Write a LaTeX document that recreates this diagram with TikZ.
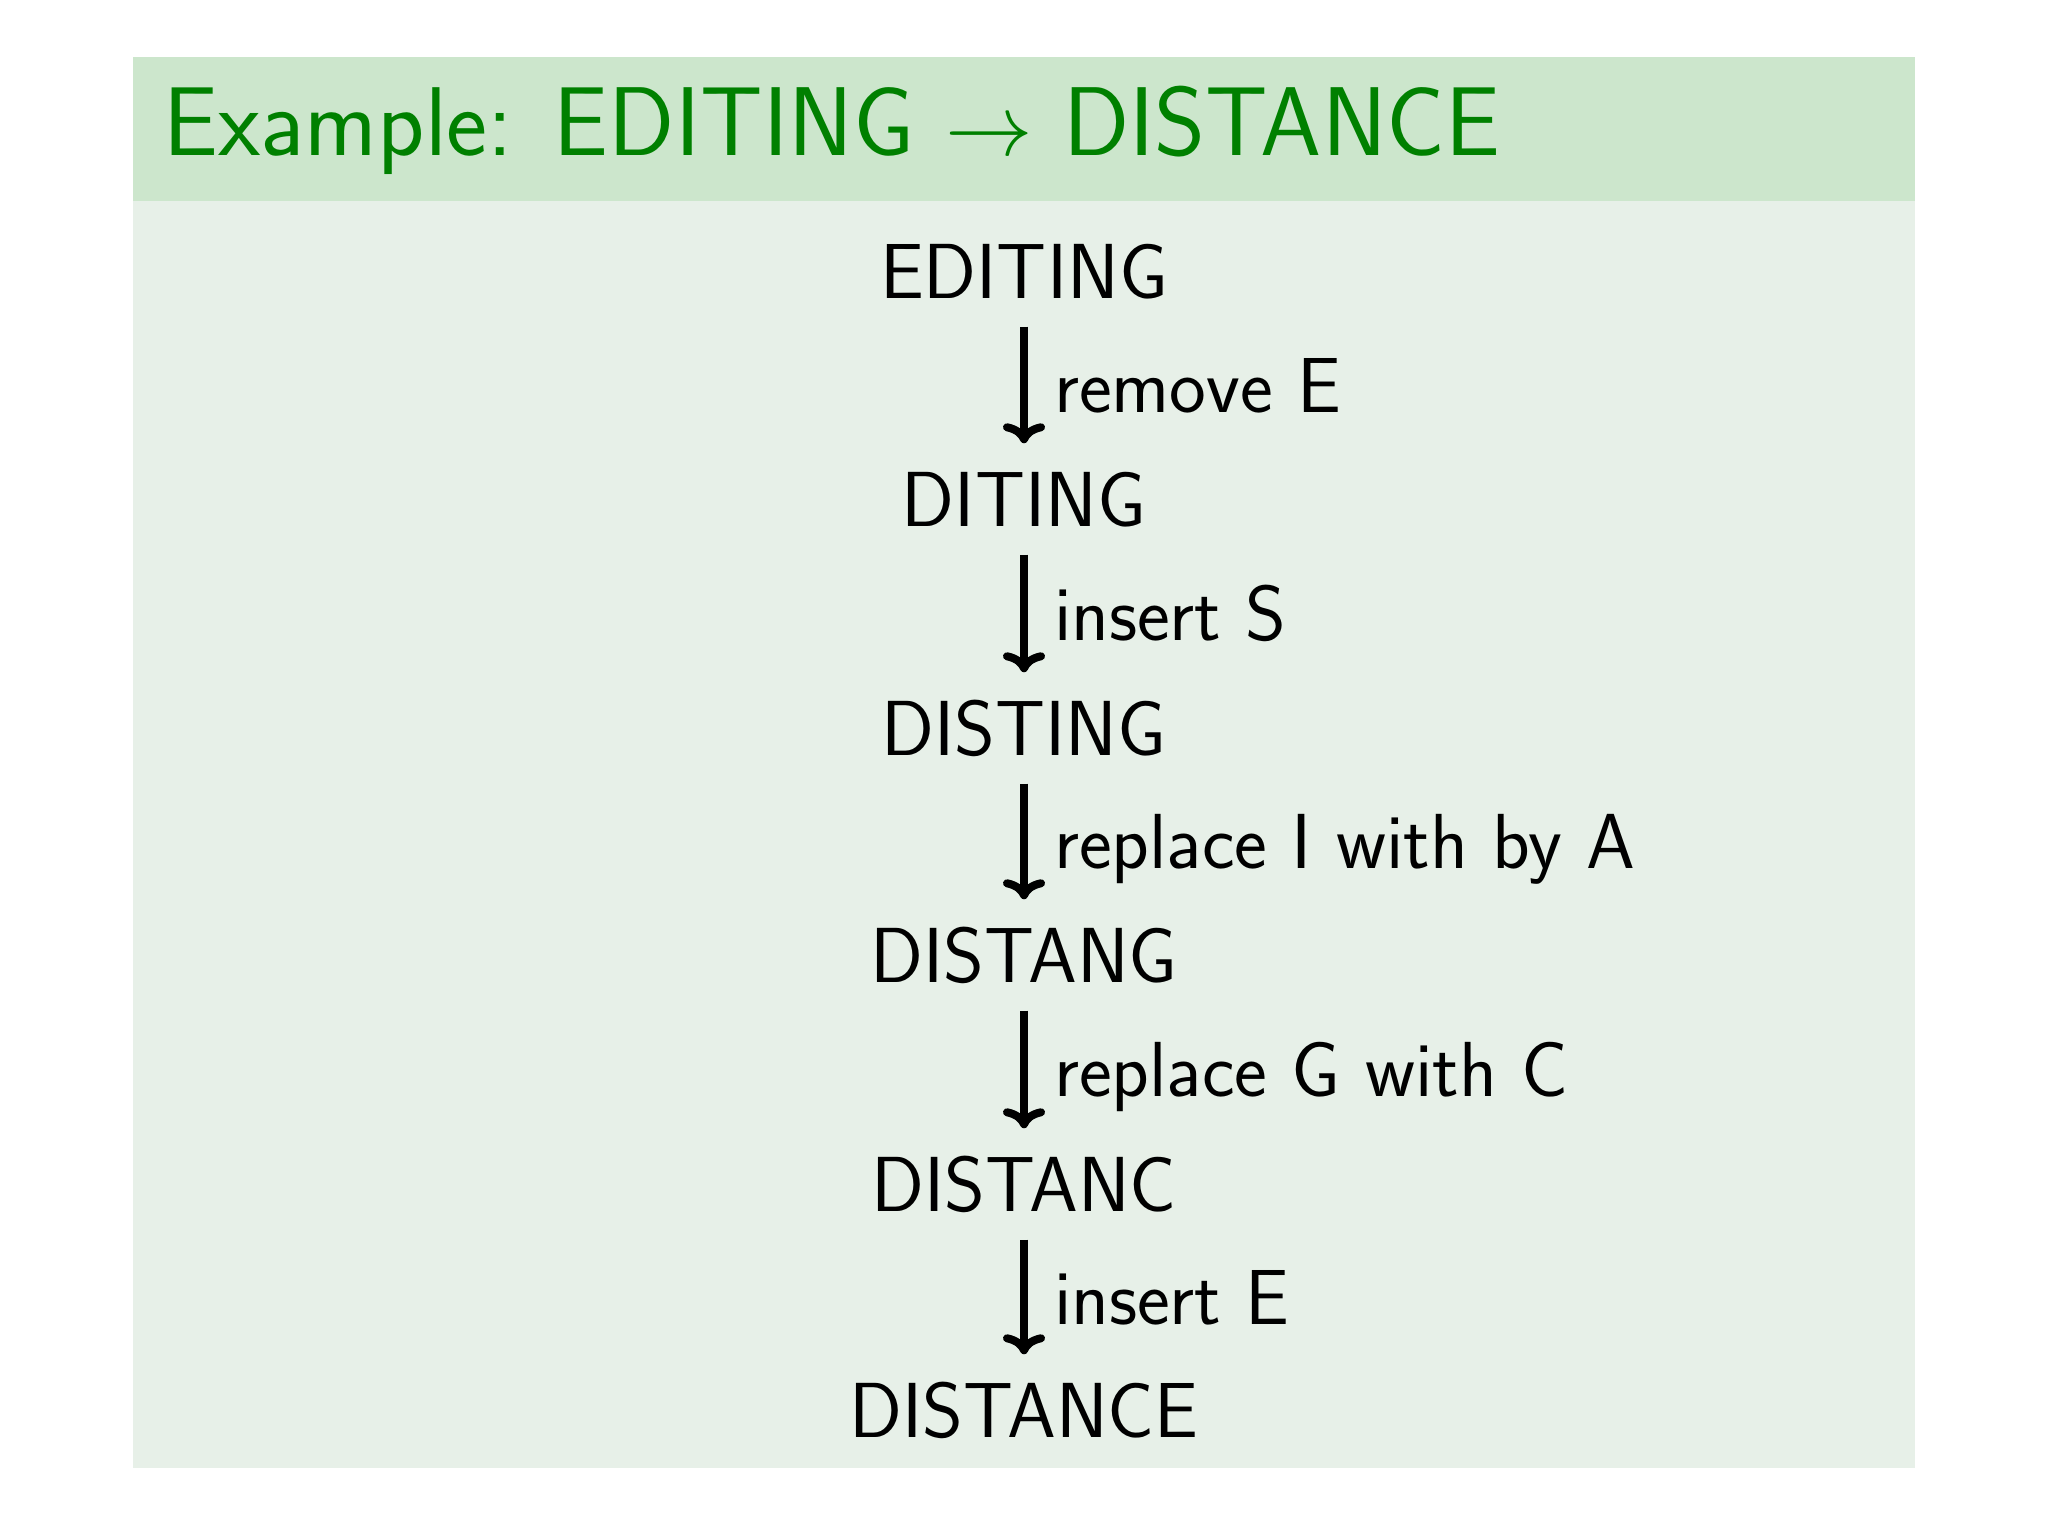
\documentclass[tikz,border=0pt]{standalone}
\usetikzlibrary{arrows.meta}
\definecolor{bandgreen}{RGB}{204,230,204}
\definecolor{bodygreen}{RGB}{231,240,232}
\definecolor{titlegreen}{RGB}{0,128,0}
\begin{document}
\begin{tikzpicture}[x=0.01cm,y=-0.01cm,
  word/.style={anchor=base,inner xsep=0pt,inner ysep=0.28cm,text height=0.54cm,text depth=0pt,
    font=\sffamily\fontsize{22.2}{26}\selectfont},
  lbl/.style={anchor=west,inner sep=0pt,xshift=0.26cm,text height=0.54cm,text depth=0pt,
    font=\sffamily\fontsize{22.2}{26}\selectfont},
  arr/.style={line width=0.08cm,-{Computer Modern Rightarrow[length=0.2cm,width=0.42cm]}}]
\useasboundingbox (0,0) rectangle (2048,1536);
\fill[white] (0,0) rectangle (2048,1536);
\fill[bodygreen] (133,201) rectangle (1915,1468);
\fill[bandgreen] (133,57) rectangle (1915,201);
\node[anchor=base west,inner sep=0pt,text=titlegreen,font=\sffamily\fontsize{27.8}{32}\selectfont]
  (title) at (163,155) {Example: EDITING $\rightarrow$ DISTANCE};
\node[word] (w1) at (1024,298) {EDITING};
\node[word] (w2) at (1024,526) {DITING};
\node[word] (w3) at (1024,755) {DISTING};
\node[word] (w4) at (1024,982) {DISTANG};
\node[word] (w5) at (1024,1211) {DISTANC};
\node[word] (w6) at (1024,1437) {DISTANCE};
\draw[arr] (w1.south) -- node[lbl] (l1) {remove E} (w2.north);
\draw[arr] (w2.south) -- node[lbl] (l2) {insert S} (w3.north);
\draw[arr] (w3.south) -- node[lbl] (l3) {replace I with by A} (w4.north);
\draw[arr] (w4.south) -- node[lbl] (l4) {replace G with C} (w5.north);
\draw[arr] (w5.south) -- node[lbl] (l5) {insert E} (w6.north);
\end{tikzpicture}
\end{document}
